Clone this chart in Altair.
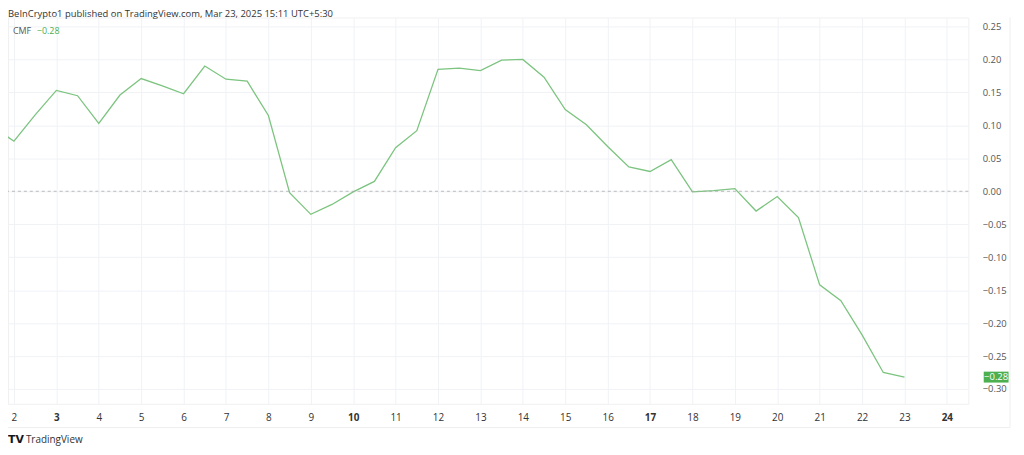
import altair as alt
import pandas as pd

# CMF values, 12h steps
days = [1.5, 2, 2.5, 3, 3.5, 4, 4.5, 5, 5.5, 6, 6.5, 7, 7.5, 8, 8.5, 9, 9.5, 10, 10.5,
        11, 11.5, 12, 12.5, 13, 13.5, 14, 14.5, 15, 15.5, 16, 16.5, 17, 17.5, 18, 18.5,
        19, 19.5, 20, 20.5, 21, 21.5, 22, 22.5, 23]
cmf = [0.098, 0.076, 0.116, 0.153, 0.145, 0.103, 0.146, 0.171, 0.160, 0.148, 0.190,
       0.170, 0.167, 0.115, -0.002, -0.035, -0.020, -0.001, 0.015, 0.066, 0.092,
       0.185, 0.187, 0.183, 0.199, 0.200, 0.173, 0.124, 0.101, 0.068, 0.037, 0.030,
       0.048, -0.001, 0.001, 0.004, -0.030, -0.008, -0.040, -0.142, -0.166, -0.218,
       -0.275, -0.282]
x_ticks = list(range(2, 25))
bold_ticks = [3, 10, 17, 24]
y_ticks = [-0.30, -0.25, -0.20, -0.15, -0.10, -0.05, 0.0, 0.05, 0.10, 0.15, 0.20, 0.25]
last_value = [-0.282]
last_label = ["\u22120.28"]
header = "BeInCrypto1 published on TradingView.com, Mar 23, 2025 15:11 UTC+5:30"

df = pd.DataFrame({"day": days, "cmf": cmf})
zero_df = pd.DataFrame({"v": [0.0]})
last_df = pd.DataFrame({"v": last_value, "label": last_label})

W, H = 967, 389
xdom = [1.8595, 24.506]
ydom = [-0.3225, 0.2637]
xs = alt.Scale(domain=xdom, nice=False, zero=False)
ys = alt.Scale(domain=ydom, nice=False, zero=False)

bold_test = " || ".join(f"datum.value == {b}" for b in bold_ticks)

y_axis = alt.Axis(orient="right", values=y_ticks, format=".2f", domain=False,
                  ticks=False, labelPadding=14, labelFontSize=9.5,
                  labelColor="#555555", labelFont="Open Sans",
                  labelOverlap=False, labelFlush=False,
                  grid=True, gridColor="#f0f2f6", gridWidth=1)

line = alt.Chart(df).mark_line(color="#7cc47f", strokeWidth=1.3, clip=True).encode(
    x=alt.X("day:Q", scale=xs, title=None,
            axis=alt.Axis(values=x_ticks, format="d", domain=False, ticks=False,
                          labelPadding=9, labelFontSize=10, labelColor="#333333",
                          labelFont="Open Sans", labelOverlap=False, labelFlush=False,
                          labelFontWeight={"condition": {"test": bold_test, "value": "bold"},
                                           "value": "normal"},
                          grid=True, gridColor="#f0f2f6", gridWidth=1)),
    y=alt.Y("cmf:Q", scale=ys, title=None, axis=y_axis),
)

zero = alt.Chart(zero_df).mark_rule(color="#aaaaaa", strokeDash=[3, 3], strokeWidth=0.8).encode(
    y=alt.Y("v:Q", scale=ys, title=None, axis=y_axis)
)

label_box = alt.Chart(last_df).mark_rect(color="#4caf50", height=11, width=25).encode(
    y=alt.Y("v:Q", scale=ys, title=None, axis=y_axis), x=alt.value(W + 28)
)
label_text = alt.Chart(last_df).mark_text(
    color="white", fontSize=9.5, font="Open Sans", align="center", baseline="middle"
).encode(y=alt.Y("v:Q", scale=ys, title=None, axis=y_axis), x=alt.value(W + 28),
         text="label:N")

title_t = alt.Chart(zero_df).mark_text(
    text=header, align="left", baseline="middle", fontSize=9.5, font="Open Sans",
    color="#333333"
).encode(x=alt.value(0), y=alt.value(-3))

cmf_t = alt.Chart(zero_df).mark_text(
    text="CMF", align="left", baseline="middle", fontSize=9, font="Open Sans",
    color="#555555"
).encode(x=alt.value(5), y=alt.value(14))
cmf_v = alt.Chart(zero_df).mark_text(
    text="\u22120.28", align="left", baseline="middle", fontSize=9, font="Open Sans",
    color="#4caf50"
).encode(x=alt.value(29), y=alt.value(14))

tv_logo = alt.Chart(zero_df).mark_text(
    text="TV", align="left", baseline="middle", fontSize=11, font="DejaVu Sans",
    fontWeight="bold", color="#131722"
).encode(x=alt.value(0), y=alt.value(H + 36))
tv_text = alt.Chart(zero_df).mark_text(
    text="TradingView", align="left", baseline="middle", fontSize=10, font="Open Sans",
    color="#333333"
).encode(x=alt.value(18), y=alt.value(H + 36))

bottom_rule = alt.Chart(zero_df).mark_rule(color="#eeeeee").encode(
    x=alt.value(0), x2=alt.value(W + 42), y=alt.value(H + 24)
)
right_rule = alt.Chart(zero_df).mark_rule(color="#eeeeee").encode(
    x=alt.value(W + 42), y=alt.value(0), y2=alt.value(H + 24)
)

chart = alt.layer(
    line, zero, bottom_rule, right_rule, label_box, label_text,
    title_t, cmf_t, cmf_v, tv_logo, tv_text
).properties(
    width=W, height=H,
    autosize=alt.AutoSizeParams(type="none"),
    padding={"left": 0, "top": 8, "right": 48, "bottom": 50},
    background="white",
).configure_view(stroke="#f0f0f0")

chart.save("out.html", embed_options={"renderer": "svg", "actions": False})
